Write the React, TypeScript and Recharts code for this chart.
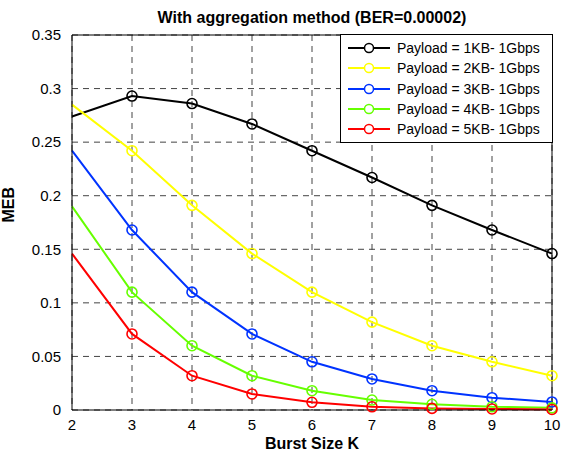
import {
  LineChart,
  Line,
  XAxis,
  YAxis,
  CartesianGrid,
  ReferenceLine,
} from "recharts";

const burstSizes = [2, 3, 4, 5, 6, 7, 8, 9, 10];
const payload1KB = [0.274, 0.293, 0.286, 0.267, 0.242, 0.217, 0.191, 0.168, 0.146];
const payload2KB = [0.285, 0.242, 0.191, 0.146, 0.11, 0.082, 0.06, 0.045, 0.032];
const payload3KB = [0.242, 0.168, 0.11, 0.071, 0.045, 0.029, 0.018, 0.0115, 0.0075];
const payload4KB = [0.19, 0.11, 0.06, 0.032, 0.018, 0.0093, 0.0053, 0.003, 0.002];
const payload5KB = [0.146, 0.071, 0.032, 0.015, 0.0072, 0.003, 0.0015, 0.001, 0.0005];

const xTicks = [2, 3, 4, 5, 6, 7, 8, 9, 10];
const yTicks = [0, 0.05, 0.1, 0.15, 0.2, 0.25, 0.3, 0.35];

const series = [
  { key: "p1", name: "Payload = 1KB- 1Gbps", color: "#000000", values: payload1KB },
  { key: "p2", name: "Payload = 2KB- 1Gbps", color: "#ffff00", values: payload2KB },
  { key: "p3", name: "Payload = 3KB- 1Gbps", color: "#0033ff", values: payload3KB },
  { key: "p4", name: "Payload = 4KB- 1Gbps", color: "#66ff00", values: payload4KB },
  { key: "p5", name: "Payload = 5KB- 1Gbps", color: "#ff0000", values: payload5KB },
];

const data = burstSizes.map((k, i) => {
  const row: Record<string, number> = { k };
  series.forEach((s) => (row[s.key] = s.values[i]));
  return row;
});

const FONT = "'Liberation Sans', Arial, sans-serif";

const makeDot = (color: string) => (props: any) => {
  const { cx, cy, index, key } = props;
  // the curves come in from the left edge, no marker at K=2
  if (index === 0) return <g key={key} />;
  return (
    <circle key={key} cx={cx} cy={cy} r={5} fill="none" stroke={color} strokeWidth={1.6} />
  );
};

const LegendBox = () => (
  <div
    style={{
      position: "absolute",
      top: 34,
      left: 340,
      width: 211,
      border: "1px solid #000",
      background: "#fff",
      padding: "3px 0",
      fontFamily: FONT,
      fontSize: 14,
    }}
  >
    {series.map((s) => (
      <div key={s.key} style={{ display: "flex", alignItems: "center", height: 20.3 }}>
        <svg width={52} height={14}>
          <line x1={7} y1={7} x2={49} y2={7} stroke={s.color} strokeWidth={2} />
          <circle cx={28} cy={7} r={4.5} fill="#fff" stroke={s.color} strokeWidth={1.5} />
        </svg>
        <span style={{ marginLeft: 4, color: "#000" }}>{s.name}</span>
      </div>
    ))}
  </div>
);

const App = () => {
  return (
    <div style={{ position: "absolute", left: 0, top: 0, width: 570, height: 453, background: "#fff", fontFamily: FONT }}>
      <div
        style={{
          position: "absolute",
          top: 9,
          left: 72,
          width: 480,
          textAlign: "center",
          fontWeight: "bold",
          fontSize: 16,
        }}
      >
        With aggregation method (BER=0.00002)
      </div>
      <LineChart
        width={570}
        height={453}
        data={data}
        margin={{ top: 35, right: 18, bottom: 0, left: 0 }}
      >
        <CartesianGrid stroke="#444" strokeDasharray="6 5" strokeWidth={1} />
        <XAxis
          dataKey="k"
          type="number"
          domain={[2, 10]}
          ticks={xTicks}
          height={43}
          stroke="#000"
          tickLine={false}
          tick={{ fill: "#000", fontSize: 15, fontFamily: FONT }}
          tickMargin={3}
          label={{
            value: "Burst Size K",
            position: "insideBottom",
            offset: 4,
            fill: "#000",
            fontSize: 16,
            fontWeight: "bold",
            fontFamily: FONT,
          }}
        />
        <YAxis
          type="number"
          domain={[0, 0.35]}
          ticks={yTicks}
          width={72}
          stroke="#000"
          tickLine={false}
          tick={{ fill: "#000", fontSize: 15, fontFamily: FONT }}
          tickMargin={5}
          label={{
            value: "MEB",
            angle: -90,
            position: "insideLeft",
            offset: 8,
            fill: "#000",
            fontSize: 16,
            fontWeight: "bold",
            fontFamily: FONT,
          }}
        />
        <ReferenceLine y={0.35} stroke="#000" strokeWidth={1} />
        <ReferenceLine x={10} stroke="#000" strokeWidth={1} />
        {series.map((s) => (
          <Line
            key={s.key}
            dataKey={s.key}
            name={s.name}
            stroke={s.color}
            strokeWidth={2}
            dot={makeDot(s.color)}
            activeDot={false}
            isAnimationActive={false}
          />
        ))}
      </LineChart>
      <LegendBox />
    </div>
  );
};

export default App;
